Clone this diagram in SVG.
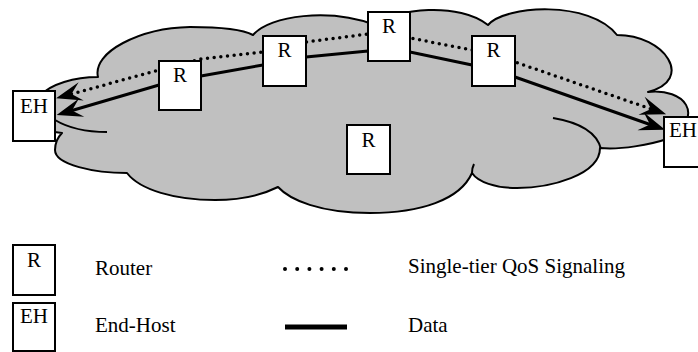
<svg xmlns="http://www.w3.org/2000/svg" width="698" height="352" viewBox="0 0 698 352">
<style>
text{font-family:"Liberation Serif","Times New Roman",serif;font-size:21px;fill:#000}
.box{fill:#fff;stroke:#000;stroke-width:2}
.cloud{fill:#c0c0c0;stroke:#000;stroke-width:2;stroke-linejoin:round}
.inner{fill:none;stroke:#000;stroke-width:2}
.data{fill:none;stroke:#000;stroke-width:3}
.sig{fill:none;stroke:#000;stroke-width:3.5;stroke-linecap:round;stroke-dasharray:0 6.7}
.mid{text-anchor:middle}
</style>
<defs>
<marker id="ah" markerUnits="userSpaceOnUse" viewBox="-12 -11 32 22" refX="0" refY="0" markerWidth="32" markerHeight="22" orient="auto-start-reverse">
<path d="M16,0 L-10,-9.5 L0,0 L-10,9.5 Z" fill="#000"/>
</marker>
</defs>
<g id="cloud">
<path class="cloud" d="M40,96 C50,84 75,77 98,77 C92,52 140,28 190,27 C222,27 242,29 253,35 C270,15 330,8 375,25 C395,8 460,2 488,25 C505,5 590,0 617,35 C665,35 695,80 648,92 C685,88 705,115 670,138 C650,145 620,150 600,148 C600,175 550,188 517,188 C495,188 478,182 472,173 C460,200 420,213 370,213 C320,213 290,200 278,187 C262,195 240,200 215,200 C175,200 140,190 127,173 C95,173 55,165 55,150 C55,142 58,137 62,133 L40,130 Z"/>
<path class="inner" d="M55,120 Q75,132 107,132"/>
<path class="inner" d="M553,118 Q595,125 601,149"/>
<path class="inner" d="M472,173 Q472,168 474,164"/>
</g>
<g id="connectors">
<path class="data" marker-start="url(#ah)" marker-end="url(#ah)" d="M72,110.5 L159,85 L201,76 L263,65 L306,57 L368,51 L410,52 L472,65 L515,77 L650,124.5"/>
<path class="sig" marker-start="url(#ah)" marker-end="url(#ah)" d="M71.5,94 L159,70 L201,59 L263,52 L306,42 L368,34 L410,38 L472,50 L515,62 L651,109"/>
</g>
<g id="R1"><rect class="box" x="159" y="61" width="42" height="49"/><text class="mid" x="180" y="82">R</text></g>
<g id="R2"><rect class="box" x="263" y="36" width="43" height="50"/><text class="mid" x="284.5" y="57">R</text></g>
<g id="R3"><rect class="box" x="368" y="12" width="42" height="49"/><text class="mid" x="389" y="33">R</text></g>
<g id="R4"><rect class="box" x="472" y="36" width="43" height="50"/><text class="mid" x="493.5" y="57">R</text></g>
<g id="Rc"><rect class="box" x="347" y="125" width="43" height="49"/><text class="mid" x="368.5" y="147">R</text></g>
<g id="EH-left"><rect class="box" x="13" y="91" width="42" height="50"/><text class="mid" x="34" y="113">EH</text></g>
<g id="EH-right"><rect class="box" x="664" y="117" width="44" height="50"/><text x="669" y="137">EH</text></g>
<g id="legend">
<g id="leg-router"><rect class="box" x="13" y="245" width="42" height="50"/><text class="mid" x="34" y="267">R</text><text x="95" y="275">Router</text></g>
<g id="leg-host"><rect class="box" x="13" y="303" width="42" height="48"/><text class="mid" x="34" y="323">EH</text><text x="95" y="332">End-Host</text></g>
<g id="leg-sig"><path d="M285,269 H347" fill="none" stroke="#000" stroke-width="4" stroke-linecap="round" stroke-dasharray="0 12.2"/><text x="408" y="273">Single-tier QoS Signaling</text></g>
<g id="leg-data"><path d="M285,327 H347" fill="none" stroke="#000" stroke-width="5"/><text x="408" y="332">Data</text></g>
</g>
</svg>
